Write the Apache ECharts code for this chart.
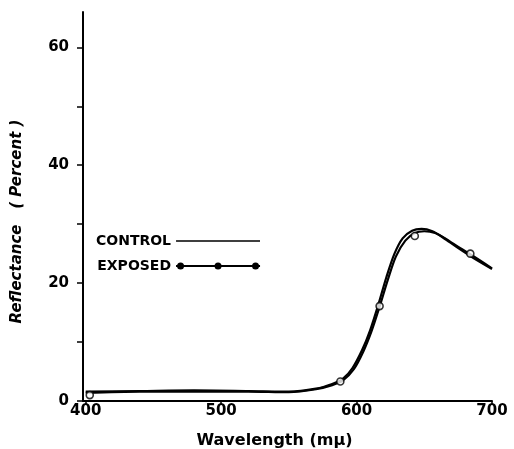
<!DOCTYPE html>
<html>
<head>
<meta charset="utf-8">
<script src="https://cdn.jsdelivr.net/npm/echarts@6/dist/echarts.min.js"></script>
<style>html,body{margin:0;padding:0;background:#fff}#c{width:514px;height:449px}</style>
</head>
<body>
<div id="c"></div>
<script>
// Wavelength (mμ) and reflectance (%)
const controlX = [400, 440, 480, 520, 550, 570, 582, 590, 597, 604, 610, 616, 622, 628, 634, 641, 648, 656, 664, 674, 686, 700];
const controlY = [1.6, 1.7, 1.8, 1.7, 1.6, 2.1, 2.9, 3.8, 5.6, 8.6, 12.0, 16.3, 21.0, 25.0, 27.6, 28.9, 29.2, 28.8, 27.7, 26.1, 24.3, 22.4];
const exposedX = [400, 440, 480, 520, 550, 570, 582, 590, 598, 605, 611, 617, 623, 629, 636, 643, 650, 658, 666, 676, 686, 700];
const exposedY = [1.4, 1.6, 1.6, 1.6, 1.5, 2.0, 2.7, 3.5, 5.4, 8.4, 11.8, 16.0, 20.5, 24.5, 27.2, 28.5, 28.8, 28.5, 27.5, 26.0, 24.6, 22.5];
const exposedMarkX = [403, 588, 617, 643, 684];
const exposedMarkY = [1.0, 3.3, 16.1, 28.0, 25.0];
const xTicks = [400, 500, 600, 700];
const yTicks = [0, 10, 20, 30, 40, 50, 60];
const yLabels = [0, 20, 40, 60];
const seriesNames = ['CONTROL', 'EXPOSED'];

const zip = (xs, ys) => xs.map((x, i) => [x, ys[i]]);
const FONT = 'DejaVu Sans';

const iconControl = 'path://M0,0L0.1,0L0,0.1Z M84,8L83.9,8L84,7.9Z M0,3.3L84,3.3L84,4.7L0,4.7Z';
const iconExposed = 'path://M0,0L0.1,0L0,0.1Z M84,8L83.9,8L84,7.9Z M0,3.1L84,3.1L84,4.9L0,4.9Z ' +
  'M1,4a3.5,3.5 0 1,1 7,0a3.5,3.5 0 1,1 -7,0Z M38.5,4a3.5,3.5 0 1,1 7,0a3.5,3.5 0 1,1 -7,0Z M76,4a3.5,3.5 0 1,1 7,0a3.5,3.5 0 1,1 -7,0Z';

const chart = echarts.init(document.getElementById('c'), null, {renderer: 'canvas'});
chart.setOption({
  animation: false,
  backgroundColor: '#fff',
  grid: {left: 83, right: 22, top: 12, bottom: 48, containLabel: false, outerBoundsMode: 'none'},
  legend: {
    orient: 'vertical', align: 'right', left: 91, top: 229,
    itemWidth: 84, itemHeight: 8, itemGap: 11,
    symbolKeepAspect: false,
    itemStyle: {borderWidth: 0, color: '#000'},
    textStyle: {fontFamily: FONT, fontWeight: 'bold', fontSize: 14, color: '#000'},
    data: [{name: seriesNames[0], icon: iconControl}, {name: seriesNames[1], icon: iconExposed}]
  },
  xAxis: {
    type: 'value', min: 398, max: 700,
    name: 'Wavelength (mμ)', nameLocation: 'middle', nameGap: 32,
    nameTextStyle: {fontFamily: FONT, fontWeight: 'bold', fontSize: 16, color: '#000', padding: [0, 26, 0, 0]},
    axisLine: {lineStyle: {color: '#000', width: 2}},
    axisTick: {show: true, length: 4, lineStyle: {color: '#000', width: 1.5}, customValues: xTicks},
    axisLabel: {customValues: xTicks, margin: 3, fontFamily: FONT, fontWeight: 'bold', fontSize: 15, color: '#000'},
    splitLine: {show: false}
  },
  yAxis: {
    type: 'value', min: 0, max: 66,
    name: 'Reflectance   ( Percent )', nameLocation: 'middle', nameGap: 58, nameRotate: 90,
    nameTextStyle: {fontFamily: FONT, fontWeight: 'bold', fontStyle: 'italic', fontSize: 15, color: '#000', padding: [0, 30, 0, 0]},
    axisLine: {show: true, lineStyle: {color: '#000', width: 2}},
    axisTick: {show: true, length: 6, lineStyle: {color: '#000', width: 1.5}, customValues: yTicks},
    axisLabel: {customValues: yLabels, margin: 14, fontFamily: FONT, fontWeight: 'bold', fontSize: 15, color: '#000'},
    splitLine: {show: false}
  },
  series: [
    {
      name: seriesNames[0], type: 'line', smooth: 0.3, showSymbol: false, symbol: 'none',
      data: zip(controlX, controlY),
      color: '#000', lineStyle: {color: '#000', width: 2.2}, z: 3
    },
    {
      name: seriesNames[1], type: 'line', smooth: 0.3, showSymbol: false, symbol: 'none',
      data: zip(exposedX, exposedY),
      color: '#000', lineStyle: {color: '#000', width: 2.2}, z: 3
    },
    {
      name: 'EXPOSED points', type: 'scatter', symbol: 'circle', symbolSize: 7,
      data: zip(exposedMarkX, exposedMarkY),
      itemStyle: {color: '#fff', borderColor: '#000', borderWidth: 1.6}, z: 4
    }
  ]
});
</script>
</body>
</html>
